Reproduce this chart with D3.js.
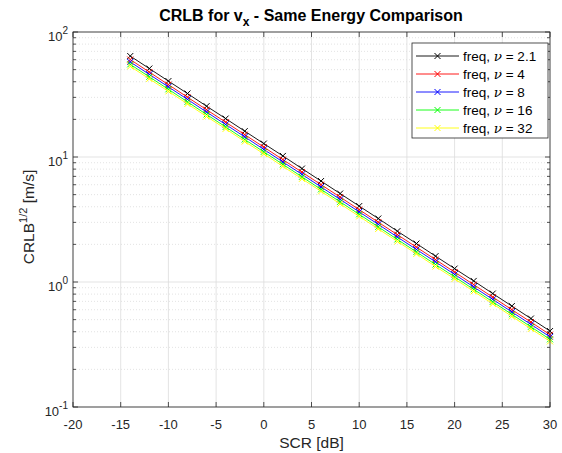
<!DOCTYPE html>
<html>
<head>
<meta charset="utf-8">
<script src="https://cdn.jsdelivr.net/npm/d3@7"></script>
<style>
  body { margin: 0; background: #fff; }
  text { font-family: Arial, "Liberation Sans", sans-serif; }
</style>
</head>
<body>
<div id="chart"></div>
<script>
// SCR values in dB
const scr = [-14, -12, -10, -8, -6, -4, -2, 0, 2, 4, 6, 8, 10, 12, 14, 16, 18, 20, 22, 24, 26, 28, 30];

// CRLB^(1/2) [m/s] per series
const nu21 = [64.2, 51.0, 40.5, 32.2, 25.5, 20.3, 16.1, 12.8, 10.2, 8.08, 6.42, 5.10, 4.05, 3.22, 2.55, 2.03, 1.61, 1.28, 1.02, 0.808, 0.642, 0.510, 0.405];
const nu4 = [60.2, 47.8, 37.9, 30.1, 23.9, 19.0, 15.1, 12.0, 9.53, 7.57, 6.01, 4.78, 3.79, 3.01, 2.39, 1.90, 1.51, 1.20, 0.953, 0.757, 0.601, 0.478, 0.379];
const nu8 = [57.6, 45.8, 36.4, 28.9, 22.9, 18.2, 14.5, 11.5, 9.13, 7.26, 5.76, 4.58, 3.64, 2.89, 2.29, 1.82, 1.45, 1.15, 0.913, 0.726, 0.576, 0.458, 0.364];
const nu16 = [55.1, 43.8, 34.8, 27.6, 21.9, 17.4, 13.8, 11.0, 8.74, 6.94, 5.51, 4.38, 3.48, 2.76, 2.19, 1.74, 1.38, 1.10, 0.874, 0.694, 0.551, 0.438, 0.348];
const nu32 = [53.1, 42.2, 33.5, 26.6, 21.1, 16.8, 13.3, 10.6, 8.42, 6.69, 5.31, 4.22, 3.35, 2.66, 2.11, 1.68, 1.33, 1.06, 0.842, 0.669, 0.531, 0.422, 0.335];

const seriesLabels = ["2.1", "4", "8", "16", "32"];
const seriesColors = ["#000000", "#ff0000", "#0000ff", "#00ff00", "#ffff00"];
const seriesValues = [nu21, nu4, nu8, nu16, nu32];

const xTicks = [-20, -15, -10, -5, 0, 5, 10, 15, 20, 25, 30];
const yDecades = [-1, 0, 1, 2];

const W = 562, H = 453;
const margin = { top: 32, right: 12, bottom: 46, left: 73 };
const width = W - margin.left - margin.right;
const height = H - margin.top - margin.bottom;

const svg = d3.select("#chart").append("svg")
    .attr("width", W)
    .attr("height", H);

const g = svg.append("g")
    .attr("transform", `translate(${margin.left},${margin.top})`);

const x = d3.scaleLinear().domain([-20, 30]).range([0, width]);
const y = d3.scaleLog().domain([0.1, 100]).range([height, 0]);

// minor y values (2..9 of each decade)
const minorY = [];
[0.1, 1, 10].forEach(d => { for (let k = 2; k <= 9; k++) minorY.push(d * k); });

// grid
g.append("g").selectAll("line").data(minorY).enter().append("line")
    .attr("x1", 0).attr("x2", width)
    .attr("y1", d => y(d)).attr("y2", d => y(d))
    .attr("stroke", "#d0d0d0").attr("stroke-width", 0.6)
    .attr("stroke-dasharray", "1,2");

g.append("g").selectAll("line").data(yDecades.map(e => Math.pow(10, e))).enter().append("line")
    .attr("x1", 0).attr("x2", width)
    .attr("y1", d => y(d)).attr("y2", d => y(d))
    .attr("stroke", "#dcdcdc").attr("stroke-width", 0.8);

g.append("g").selectAll("line").data(xTicks).enter().append("line")
    .attr("x1", d => x(d)).attr("x2", d => x(d))
    .attr("y1", 0).attr("y2", height)
    .attr("stroke", "#dcdcdc").attr("stroke-width", 0.8);

// series
const line = d3.line()
    .x((d, i) => x(scr[i]))
    .y(d => y(d));

seriesValues.forEach((vals, s) => {
    const sg = g.append("g");
    sg.append("path")
        .datum(vals)
        .attr("d", line)
        .attr("fill", "none")
        .attr("stroke", seriesColors[s])
        .attr("stroke-width", 0.9);
    sg.selectAll("path.m").data(vals).enter().append("path")
        .attr("class", "m")
        .attr("d", "M-3,-3L3,3M-3,3L3,-3")
        .attr("transform", (d, i) => `translate(${x(scr[i])},${y(d)})`)
        .attr("stroke", seriesColors[s])
        .attr("stroke-width", 1);
});

// axes box and ticks
const axisColor = "#262626";
g.append("rect")
    .attr("width", width).attr("height", height)
    .attr("fill", "none").attr("stroke", axisColor).attr("stroke-width", 0.8);

const tickLen = 5;
xTicks.forEach(t => {
    g.append("line").attr("x1", x(t)).attr("x2", x(t)).attr("y1", height).attr("y2", height - tickLen)
        .attr("stroke", axisColor).attr("stroke-width", 0.8);
    g.append("line").attr("x1", x(t)).attr("x2", x(t)).attr("y1", 0).attr("y2", tickLen)
        .attr("stroke", axisColor).attr("stroke-width", 0.8);
});
yDecades.map(e => Math.pow(10, e)).forEach(v => {
    g.append("line").attr("x1", 0).attr("x2", tickLen).attr("y1", y(v)).attr("y2", y(v))
        .attr("stroke", axisColor).attr("stroke-width", 0.8);
    g.append("line").attr("x1", width).attr("x2", width - tickLen).attr("y1", y(v)).attr("y2", y(v))
        .attr("stroke", axisColor).attr("stroke-width", 0.8);
});
minorY.forEach(v => {
    g.append("line").attr("x1", 0).attr("x2", 3).attr("y1", y(v)).attr("y2", y(v))
        .attr("stroke", axisColor).attr("stroke-width", 0.8);
    g.append("line").attr("x1", width).attr("x2", width - 3).attr("y1", y(v)).attr("y2", y(v))
        .attr("stroke", axisColor).attr("stroke-width", 0.8);
});

// tick labels
g.append("g").selectAll("text").data(xTicks).enter().append("text")
    .attr("x", d => x(d)).attr("y", height + 21.5)
    .attr("text-anchor", "middle")
    .attr("font-size", 13).attr("fill", axisColor)
    .text(d => d);

const yl = g.append("g").selectAll("text").data(yDecades).enter().append("text")
    .attr("x", -5).attr("y", d => y(Math.pow(10, d)) + 8.5)
    .attr("text-anchor", "end")
    .attr("font-size", 13).attr("fill", axisColor);
yl.append("tspan").text("10");
yl.append("tspan").attr("dy", -7).attr("font-size", 10).text(d => d);

// axis labels
svg.append("text")
    .attr("x", margin.left + width / 2).attr("y", 448)
    .attr("text-anchor", "middle")
    .attr("font-size", 15.5).attr("fill", axisColor)
    .text("SCR [dB]");

const ylab = svg.append("text")
    .attr("transform", `translate(34,217) rotate(-90)`)
    .attr("text-anchor", "middle")
    .attr("font-size", 15.5).attr("fill", axisColor);
ylab.append("tspan").text("CRLB");
ylab.append("tspan").attr("dy", -7).attr("font-size", 11).text("1/2");
ylab.append("tspan").attr("dy", 7).text(" [m/s]");

// title
const title = svg.append("text")
    .attr("x", 311).attr("y", 21)
    .attr("text-anchor", "middle")
    .attr("font-size", 16).attr("font-weight", "bold").attr("fill", "#000");
title.append("tspan").text("CRLB for v");
title.append("tspan").attr("dy", 5).attr("font-size", 12).text("x");
title.append("tspan").attr("dy", -5).text(" - Same Energy Comparison");

// legend
const lg = svg.append("g").attr("transform", "translate(412,43)");
lg.append("rect")
    .attr("width", 136).attr("height", 95)
    .attr("fill", "#fff").attr("stroke", axisColor).attr("stroke-width", 0.8);
seriesLabels.forEach((lab, i) => {
    const yy = 13 + i * 18;
    lg.append("line").attr("x1", 4).attr("x2", 47).attr("y1", yy).attr("y2", yy)
        .attr("stroke", seriesColors[i]).attr("stroke-width", 0.9);
    lg.append("path").attr("d", "M-3,-3L3,3M-3,3L3,-3")
        .attr("transform", `translate(25.5,${yy})`)
        .attr("stroke", seriesColors[i]).attr("stroke-width", 1);
    const t = lg.append("text").attr("x", 51).attr("y", yy + 5)
        .attr("font-size", 13.5).attr("fill", "#000");
    t.append("tspan").text("freq, ");
    t.append("tspan").attr("font-family", "'DejaVu Serif', 'Liberation Serif', serif")
        .attr("font-style", "italic").text("\u03BD");
    t.append("tspan").text(" = " + lab);
});
</script>
</body>
</html>
